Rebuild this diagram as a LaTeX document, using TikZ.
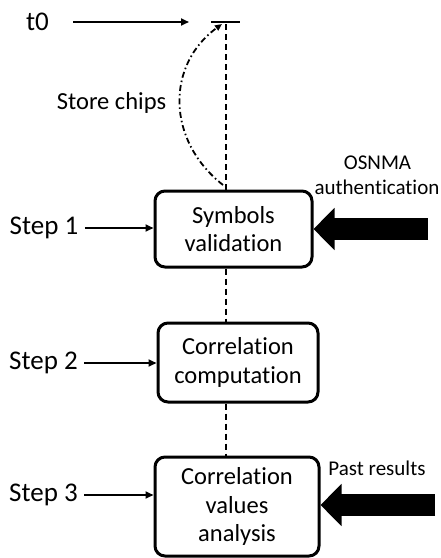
\documentclass[tikz,border=0pt]{standalone}
\usepackage{fontspec}
\setmainfont{Carlito}[Ligatures=NoCommon]
\usetikzlibrary{arrows.meta}
\begin{document}
\begin{tikzpicture}[x=1pt,y=-1pt,
  big/.style={font=\fontsize{24.5}{28.5}\selectfont},
  steplab/.style={font=\fontsize{27}{30}\selectfont},
  small/.style={font=\fontsize{21}{24}\selectfont},
  stepbox/.style={draw, line width=3pt, rounded corners=10pt, align=center,
    big, inner sep=0pt},
  thin/.style={line width=1.8pt, -{Triangle[length=8pt,width=7pt]}},
  fat/.style={line width=22pt, -{Triangle[length=21pt,width=41pt]}},
  vdash/.style={line width=1.8pt, dash pattern=on 6pt off 4pt},
]
\useasboundingbox (0,0) rectangle (440,558);

% process boxes
\node[stepbox, minimum width=157pt, minimum height=76pt] (b1) at (233.5,229)
  {Symbols\\validation};
\node[stepbox, minimum width=160pt, minimum height=79pt] (b2) at (238,362.5)
  {Correlation\\computation};
\node[stepbox, minimum width=164pt, minimum height=99pt] (b3) at (237,506.5)
  {Correlation\\values\\analysis};

% step labels
\node[steplab] (s1) at (44,228) {Step 1};
\node[steplab] (s2) at (43.5,363) {Step 2};
\node[steplab] (s3) at (43.5,495) {Step 3};
\draw[thin, shorten <=3pt] (s1.east) -- (b1.west |- s1.east);
\draw[thin, shorten <=3pt] (s2.east) -- (b2.west |- s2.east);
\draw[thin, shorten <=3pt] (s3.east) -- (b3.west |- s3.east);

% start time and chip storage
\node[steplab] (t0) at (37.5,22) {t0};
\coordinate (t0end) at (189,22);
\coordinate (tickL) at (211,22);
\coordinate (tickR) at (240,22);
\coordinate (top) at (226,22);
\draw[thin, shorten <=21pt] (t0.east) -- (t0end);
\draw[line width=1.8pt] (tickL) -- (tickR);
\draw[vdash] (b1.north -| top) -- (top);
\coordinate (curveS) at (223,185);
\coordinate (curveE) at (222,24);
\draw[line width=1.8pt, dash pattern=on 6pt off 3pt on 1.5pt off 3pt,
  -{Triangle[length=7pt,width=6pt]}]
  (curveS) .. controls (166,140) and (166,65) .. (curveE);
\node[big] (store) at (111.5,103) {Store chips};

% links between boxes
\draw[vdash] (b1.south -| top) -- (b2.north -| top);
\draw[vdash] (b2.south -| top) -- (b3.north -| top);

% external inputs
\node[small] (osnma) at (377.5,163) {OSNMA};
\node[small] (auth) at (377,187) {authentication};
\coordinate (in1) at (428,229);
\draw[fat] (in1) -- (b1.east |- in1);
\node[small] (past) at (377,468) {Past results};
\coordinate (in3) at (435,505);
\draw[fat] (in3) -- (b3.east |- in3);
\end{tikzpicture}
\end{document}
